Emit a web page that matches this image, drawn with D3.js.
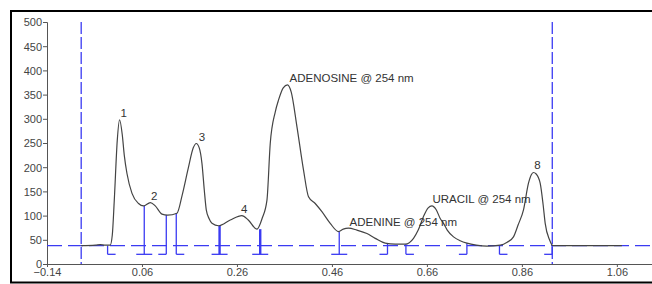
<!DOCTYPE html>
<html>
<head>
<meta charset="utf-8">
<script src="https://cdn.jsdelivr.net/npm/d3@7"></script>
<style>
  body { margin: 0; background: #fff; }
  svg { display: block; font-family: "Liberation Sans", Arial, sans-serif; }
  .axis text { font-size: 11px; fill: #444; }
  .axis path, .axis line { stroke: #555; }
</style>
</head>
<body>
<script>
'use strict';

// retention time (min) / signal (mAU)
var traceTime = [-0.068, -0.038, -0.028, -0.017, -0.007, -0.0025, 0.0017, 0.008, 0.0128,
  0.0185, 0.0227, 0.0284, 0.039, 0.0528, 0.0634, 0.0775, 0.088, 0.1021, 0.1139, 0.1337,
  0.1448, 0.1575, 0.168, 0.1743, 0.1806, 0.1863, 0.1912, 0.1954, 0.2017, 0.2074, 0.2213,
  0.2459, 0.2705, 0.2838, 0.3021, 0.3133, 0.3232, 0.3301, 0.3406, 0.3476, 0.3575, 0.3665,
  0.3743, 0.3863, 0.4002, 0.4107, 0.4248, 0.4389, 0.4564, 0.4739, 0.4838, 0.4949, 0.5126,
  0.5337, 0.5512, 0.5722, 0.5933, 0.6143, 0.6318, 0.6417, 0.6528, 0.6627, 0.6705, 0.6796,
  0.688, 0.695, 0.7028, 0.7161, 0.7301, 0.7442, 0.7638, 0.7863, 0.8143, 0.829, 0.8423,
  0.8522, 0.8634, 0.8739, 0.8796, 0.8844, 0.8901, 0.8985, 0.9048, 0.9091, 0.9182, 0.9253, 1.0705];
var traceSignal = [38, 39, 40, 39, 39, 60, 132, 256, 298,
  267, 225, 187, 146, 125, 120, 127, 120, 103, 101, 105,
  143, 198, 240, 249, 240, 208, 153, 112, 93, 84, 79,
  91, 100, 91, 72, 95, 132, 249, 314, 339, 364, 370,
  355, 284, 194, 139, 125, 108, 84, 67, 72, 74, 70,
  63, 53, 43, 41, 41, 53, 70, 98, 116, 120, 112,
  94, 84, 70, 56, 48, 43, 39, 37, 39, 45, 56,
  81, 112, 167, 184, 189, 186, 167, 122, 84, 50, 38, 38];

// integration marks: time, signal at the mark, kind (s = start, e = end, b = both)
var markTime = [-0.0124, 0.0648, 0.1112, 0.1322, 0.2234, 0.309, 0.4754, 0.577, 0.6158, 0.7442, 0.8128, 0.9238];
var markSignal = [38, 120, 101, 105, 79, 72, 67, 43, 41, 43, 39, 38];
var markKind = ['s', 'b', 'e', 's', 'b', 'b', 'b', 'e', 's', 'e', 's', 'e'];
var markWidth = [1.3, 1.3, 1.3, 1.3, 2.4, 2.4, 1.3, 1.3, 1.3, 1.3, 1.3, 1.3];
var markBottom = 20;

// peak labels
var labelText = ['1', '2', '3', '4', 'ADENOSINE @ 254 nm', 'ADENINE @ 254 nm', 'URACIL @ 254 nm', '8'];
var labelTime = [0.0214, 0.086, 0.1863, 0.2754, 0.3707, 0.497, 0.6718, 0.8929];
var labelSignal = [312, 140, 263, 113, 384, 87, 134, 205];
var labelAnchor = ['middle', 'middle', 'middle', 'middle', 'start', 'start', 'start', 'middle'];

var xTicks = [-0.14, 0.06, 0.26, 0.46, 0.66, 0.86, 1.06];
var yTicks = [0, 50, 100, 150, 200, 250, 300, 350, 400, 450, 500];
var baselineLevel = 38;
var windowStart = -0.068;
var windowEnd = 0.924;

var width = 652;
var height = 284;

var svg = d3.select('body').append('svg')
  .attr('width', width)
  .attr('height', height);

// outer frame
svg.append('rect')
  .attr('x', 11).attr('y', 11)
  .attr('width', 660).attr('height', 271.5)
  .attr('fill', 'none')
  .attr('stroke', '#000')
  .attr('stroke-width', 2);

var x = d3.scaleLinear().domain([-0.14, 1.134]).range([47, 652]);
var y = d3.scaleLinear().domain([0, 500]).range([264, 22]);

var fmtX = d3.format('.2f');

svg.append('g')
  .attr('class', 'axis')
  .attr('transform', 'translate(0,' + y(0) + ')')
  .call(d3.axisBottom(x).tickValues(xTicks).tickSize(3).tickSizeOuter(0).tickFormat(fmtX))
  .call(function(g) { g.selectAll('text').attr('dy', '0.55em'); });

svg.append('g')
  .attr('class', 'axis')
  .attr('transform', 'translate(' + x(-0.14) + ',0)')
  .call(d3.axisLeft(y).tickValues(yTicks).tickSize(4).tickSizeOuter(4).tickPadding(1))
  .call(function(g) { g.selectAll('text').attr('dy', '0.35em'); });

var blue = '#3b3bf2';

// dashed baseline and integration window
svg.append('line')
  .attr('x1', x(-0.14)).attr('x2', width)
  .attr('y1', y(baselineLevel)).attr('y2', y(baselineLevel))
  .attr('stroke', blue).attr('stroke-width', 1.2)
  .attr('stroke-dasharray', '15,6');

[windowStart, windowEnd].forEach(function(t) {
  svg.append('line')
    .attr('x1', x(t)).attr('x2', x(t))
    .attr('y1', y(500)).attr('y2', y(0))
    .attr('stroke', blue).attr('stroke-width', 1.3)
    .attr('stroke-dasharray', '12,3');
});

// integration marks
var marks = svg.append('g');
markTime.forEach(function(t, i) {
  var mx = x(t);
  var yb = y(markBottom);
  marks.append('line')
    .attr('x1', mx).attr('x2', mx)
    .attr('y1', y(markSignal[i])).attr('y2', yb)
    .attr('stroke', blue).attr('stroke-width', markWidth[i]);
  var left = markKind[i] === 's' ? mx : mx - 8;
  var right = markKind[i] === 'e' ? mx : mx + 8;
  marks.append('line')
    .attr('x1', left).attr('x2', right)
    .attr('y1', yb).attr('y2', yb)
    .attr('stroke', blue).attr('stroke-width', 1.3);
});

// chromatogram trace
var points = traceTime.map(function(t, i) { return [t, traceSignal[i]]; });
var line = d3.line()
  .x(function(d) { return x(d[0]); })
  .y(function(d) { return y(d[1]); })
  .curve(d3.curveMonotoneX);

svg.append('path')
  .datum(points)
  .attr('d', line)
  .attr('fill', 'none')
  .attr('stroke', '#444')
  .attr('stroke-width', 1.2);

// peak labels
svg.selectAll('text.peak')
  .data(labelText)
  .enter().append('text')
  .attr('class', 'peak')
  .attr('x', function(d, i) { return x(labelTime[i]); })
  .attr('y', function(d, i) { return y(labelSignal[i]); })
  .attr('dy', '0.35em')
  .attr('text-anchor', function(d, i) { return labelAnchor[i]; })
  .style('font-size', '11.5px')
  .style('fill', '#333')
  .text(function(d) { return d; });
</script>
</body>
</html>
